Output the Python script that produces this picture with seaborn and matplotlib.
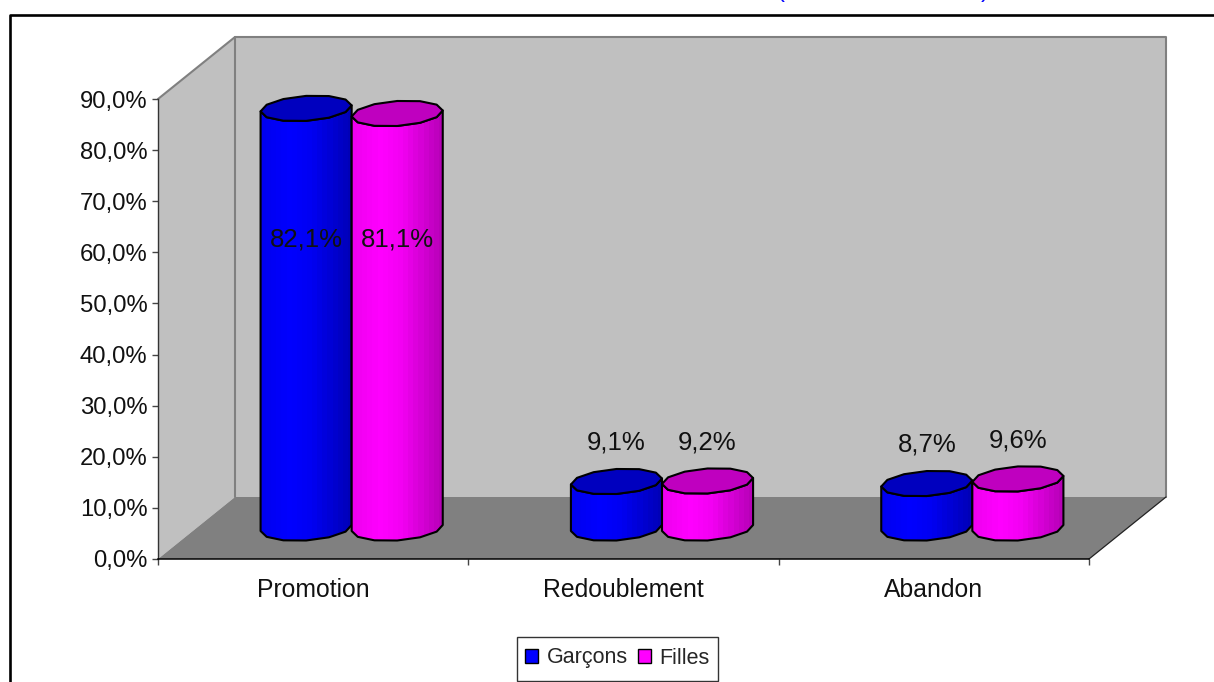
import matplotlib
matplotlib.use('Agg')
import numpy as np
import pandas as pd
from matplotlib import pyplot as plt
from matplotlib.patches import Polygon
from matplotlib.lines import Line2D
import seaborn as sns

# values
categories = ["Promotion", "Redoublement", "Abandon"]
garcons = [82.1, 9.1, 8.7]
filles = [81.1, 9.2, 9.6]
series_names = ["Garçons", "Filles"]
y_ticks = [0, 10, 20, 30, 40, 50, 60, 70, 80, 90]

W, H = 1214, 682
FRONT = (158, 99, 1089, 559)   # left, top, right, bottom of the front plane, px
DEPTH = (77, -62)              # full depth of the box, px
PX_PER_PCT = (FRONT[3] - FRONT[1]) / 90.0


def axes_from_px(fig, left, top, right, bottom):
    return fig.add_axes([left / W, 1 - bottom / H, (right - left) / W, (bottom - top) / H])


def fig_xy(x, y):
    return (x / W, 1 - y / H)


def fig_poly(fig, points, **kw):
    poly = Polygon([fig_xy(*p) for p in points], closed=True, transform=fig.transFigure, zorder=-1, **kw)
    fig.add_artist(poly)
    return poly


def fig_line(fig, points, **kw):
    xs, ys = zip(*[fig_xy(*p) for p in points])
    fig.add_artist(Line2D(xs, ys, transform=fig.transFigure, **kw))


def pct_label(v):
    return f"{v:.1f}%".replace(".", ",")


def ellipse_arc(cx, cy, a, b, shear, t):
    return np.column_stack([cx + a * np.cos(t), cy + b * np.sin(t) + shear * np.cos(t)])


def draw_cylinder(ax, bar, rgb, z):
    """Turns a flat seaborn bar into a faceted cylinder, using the bar's own geometry."""
    a = bar.get_width() / 2
    cx = bar.get_x() + a
    top = bar.get_height()
    b = 12.5 / PX_PER_PCT
    shear = 3.0 / PX_PER_PCT
    t_low = np.linspace(np.pi, 2 * np.pi, 7)
    t_up = np.linspace(0, np.pi, 7)
    low = ellipse_arc(cx, 0, a, b, shear, t_low)
    high = ellipse_arc(cx, top, a, b, shear, t_low[::-1])
    outline = np.vstack([low, high])

    u = np.linspace(0, 1, 18)
    shade = np.interp(u, [0, 0.3, 0.55, 1], [0.94, 1.0, 0.95, 0.72])
    img = np.outer(shade, rgb)[None, :, :]
    im = ax.imshow(img, extent=(cx - a, cx + a, -b - 1, top + b + 1), aspect='auto',
                   interpolation='nearest', zorder=z)
    body = Polygon(outline, closed=True, fc='none', ec='black', lw=1.5, joinstyle='round', zorder=z + 0.2)
    ax.add_patch(body)
    body.set_clip_on(False)
    im.set_clip_path(body)
    im.set_clip_box(ax.figure.bbox)

    cap = np.vstack([ellipse_arc(cx, top, a, b, shear, t_up), ellipse_arc(cx, top, a, b, shear, t_low)])
    ax.add_patch(Polygon(cap, closed=True, fc=np.array(rgb) * 0.75, ec='black', lw=1.5,
                         joinstyle='round', zorder=z + 0.3, clip_on=False))


sns.set_theme(style="white")
plt.rcParams['font.family'] = ['Liberation Sans', 'DejaVu Sans']

df = pd.DataFrame({
    "categorie": categories * 2,
    "valeur": garcons + filles,
    "sexe": [series_names[0]] * 3 + [series_names[1]] * 3,
})

fig = plt.figure(figsize=(W / 100, H / 100), dpi=100, facecolor='white')

# box: walls and floor
l, t, r, b = FRONT
dx, dy = DEPTH
fig_poly(fig, [(l, t), (l + dx, t + dy), (l + dx, b + dy), (l, b)], fc='#C0C0C0', ec='none')
fig_poly(fig, [(l + dx, t + dy), (r + dx, t + dy), (r + dx, b + dy), (l + dx, b + dy)], fc='#C0C0C0', ec='none')
fig_poly(fig, [(l, b), (l + dx, b + dy), (r + dx, b + dy), (r, b)], fc='#808080', ec='none')
fig_line(fig, [(l, t), (l + dx, t + dy), (r + dx, t + dy), (r + dx, b + dy)], color='#808080', lw=1.5, zorder=0)
fig_line(fig, [(l + dx, t + dy), (l + dx, b + dy)], color='#808080', lw=1.5, zorder=0)
fig_line(fig, [(r, b), (r + dx, b + dy)], color='#222222', lw=0.9, zorder=0)

# legend box drawn separately, its text stays in the seaborn legend
fig_poly(fig, [(517, 637), (718, 637), (718, 681), (517, 681)], fc='white', ec='#333333', lw=1)

# outer frame, runs off the picture to the right and below
fig_line(fig, [(10, H + 5), (10, 14.5), (W + 5, 14.5)], color='black', lw=1.9)

# front plane carries the axes
ax = axes_from_px(fig, l, t, r, b)
ax.patch.set_alpha(0)
ax.set_xlim(-0.5, 2.5)
ax.set_ylim(0, 90)
ax.set_yticks(y_ticks)
ax.set_yticklabels([f"{v:.1f}%".replace(".", ",") for v in y_ticks], fontsize=17.2, color='#111111')
ax.set_xticks([-0.5, 0.5, 1.5, 2.5])
ax.set_xticklabels([])
ax.set_xticks([0, 1, 2], labels=categories, minor=True, fontsize=17.8, color='#111111')
ax.tick_params(axis='both', which='major', length=4.5, width=1, color='#444444', left=True, bottom=True, pad=3)
ax.tick_params(axis='x', which='minor', length=0, pad=14)
sns.despine(ax=ax)
ax.spines['left'].set_color('#333333')
ax.spines['bottom'].set_color('black')
ax.spines['left'].set_linewidth(1)
ax.spines['bottom'].set_linewidth(1.1)
ax.grid(False)

# cylinders stand halfway into the box
mid = axes_from_px(fig, l + dx / 2, t + dy / 2, r + dx / 2, b + dy / 2)
mid.patch.set_alpha(0)
sns.barplot(data=df, x="categorie", y="valeur", hue="sexe", order=categories, hue_order=series_names,
            palette=["#0000FF", "#FF00FF"], width=0.587, gap=0, saturation=1, errorbar=None,
            edgecolor='black', linewidth=1, ax=mid)
mid.set_xlim(-0.5, 2.5)
mid.set_ylim(0, 90)
mid.axis('off')

sns.move_legend(mid, "center", bbox_to_anchor=fig_xy(617.5, 658), bbox_transform=fig.transFigure,
                ncol=2, title=None, frameon=False, fontsize=15.5, handlelength=0.6, handleheight=0.6,
                handletextpad=0.4, columnspacing=0.45, borderpad=0.4, labelspacing=0.3)

colours = [(0.0, 0.0, 1.0), (1.0, 0.0, 1.0)]
for s, container in enumerate(mid.containers):
    for i, bar in enumerate(container):
        bar.set_visible(False)
        draw_cylinder(mid, bar, colours[s], 3 + i + s * 0.5)
        v = bar.get_height()
        # the two tall bars carry their label inside, the short ones above
        label_y = 56.4 if v > 50 else v + 7.6
        mid.text(bar.get_x() + bar.get_width() / 2, label_y, pct_label(v), ha='center', va='center',
                 fontsize=18.5, color='#111111', zorder=10)
mid.set_xlim(-0.5, 2.5)
mid.set_ylim(0, 90)

# bottoms of the cut off blue title
fig.text(780 / W, 1 + 3 / H, "(", color='#0000FF', fontsize=17, ha='center', va='baseline')
fig.text(985 / W, 1 + 3 / H, ")", color='#0000FF', fontsize=17, ha='center', va='baseline')

fig.savefig("out.png", dpi=100)
